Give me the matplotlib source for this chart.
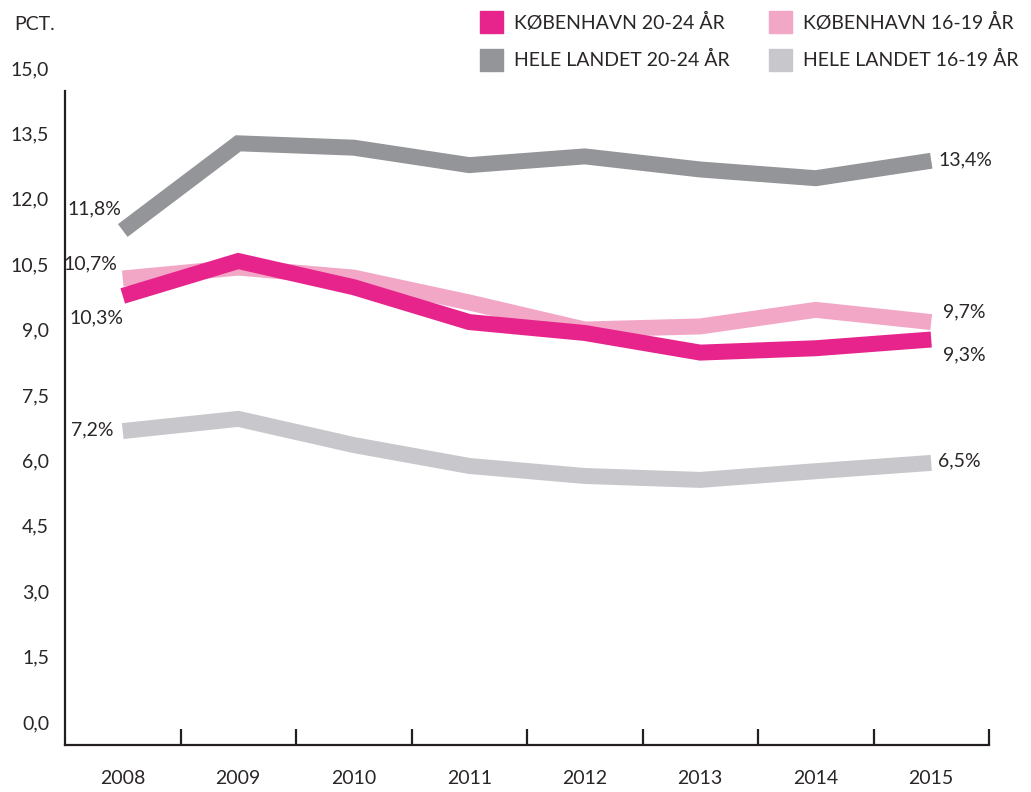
import matplotlib
matplotlib.use("Agg")
import matplotlib.pyplot as plt
import matplotlib.transforms as mtransforms
from matplotlib.patches import Rectangle
import numpy as np

plt.rcParams['font.family'] = ['Lato', 'DejaVu Sans']

years = ["2008", "2009", "2010", "2011", "2012", "2013", "2014", "2015"]
kbh_20_24 = [10.3, 11.1, 10.5, 9.7, 9.45, 9.0, 9.1, 9.3]
kbh_16_19 = [10.7, 10.95, 10.72, 10.15, 9.53, 9.6, 9.98, 9.7]
land_20_24 = [11.8, 13.8, 13.7, 13.3, 13.5, 13.2, 13.0, 13.4]
land_16_19 = [7.2, 7.48, 6.88, 6.4, 6.17, 6.08, 6.28, 6.47]

series_names = ["KØBENHAVN 20-24 ÅR", "KØBENHAVN 16-19 ÅR",
                "HELE LANDET 20-24 ÅR", "HELE LANDET 16-19 ÅR"]
yticks = [0.0, 1.5, 3.0, 4.5, 6.0, 7.5, 9.0, 10.5, 12.0, 13.5, 15.0]

c_kbh2024 = '#e7248c'
c_kbh1619 = '#f2a7c6'
c_land2024 = '#939598'
c_land1619 = '#c8c8cc'
txt = '#2a2627'
fw = 'normal'

W, H = 1031, 792
fig = plt.figure(figsize=(W / 100, H / 100), dpi=100)
ax = fig.add_axes([65 / W, 1 - 745 / H, (989 - 65) / W, (745 - 91) / H])

x = np.arange(len(years))
lw = 11.5
common = dict(lw=lw, solid_capstyle='butt', solid_joinstyle='miter')
ax.plot(x, land_16_19, color=c_land1619, **common)
ax.plot(x, land_20_24, color=c_land2024, **common)
ax.plot(x, kbh_16_19, color=c_kbh1619, **common)
ax.plot(x, kbh_20_24, color=c_kbh2024, **common)

ax.set_xlim(-0.5, len(years) - 0.5)
ax.set_ylim(0, 15)

for s in ['top', 'right']:
    ax.spines[s].set_visible(False)
for s in ['left', 'bottom']:
    ax.spines[s].set_color('#231f20')
    ax.spines[s].set_linewidth(1.6)

fs = 14
ax.set_yticks(yticks)
ax.set_yticklabels([f"{v:.1f}".replace('.', ',') for v in yticks],
                   fontsize=fs, color=txt, fontweight=fw)
ax.tick_params(axis='y', length=0, pad=11.5)
off = mtransforms.ScaledTranslation(0, 23 / 100, fig.dpi_scale_trans)
for lab in ax.get_yticklabels():
    lab.set_transform(lab.get_transform() + off)

ax.set_xticks(x)
ax.set_xticklabels(years, fontsize=14, color=txt, fontweight=fw)
ax.tick_params(axis='x', which='major', length=0, pad=18)
ax.set_xticks(x + 0.5, minor=True)
ax.tick_params(axis='x', which='minor', direction='in', length=11.5,
               width=1.6, color='#231f20')

def lab(xi, yv, s, dx, dy, ha):
    ax.annotate(s, (xi, yv), xytext=(dx, dy), textcoords='offset pixels',
                ha=ha, va='center', fontsize=fs, color=txt, fontweight=fw)

lab(0, land_20_24[0], "11,8%", -1, 22, 'right')
lab(0, kbh_16_19[0], "10,7%", -5, 15, 'right')
lab(0, kbh_20_24[0], "10,3%", 1, -22, 'right')
lab(0, land_16_19[0], "7,2%", -9, 1, 'right')
lab(7, land_20_24[7], "13,4%", 7, 1, 'left')
lab(7, kbh_16_19[7], "9,7%", 12, 10, 'left')
lab(7, kbh_20_24[7], "9,3%", 12, -15, 'left')
lab(7, land_16_19[7], "6,5%", 7, 2, 'left')

fig.text(14 / W, 1 - 25 / H, "PCT.", fontsize=fs, color=txt,
         fontweight=fw, va='center', ha='left')

legend_items = [(series_names[0], c_kbh2024, 480, 22),
                (series_names[1], c_kbh1619, 769, 22),
                (series_names[2], c_land2024, 480, 60),
                (series_names[3], c_land1619, 769, 60)]
for name, col, px, py in legend_items:
    fig.patches.append(Rectangle((px / W, 1 - (py + 11) / H), 23 / W, 22 / H,
                                 transform=fig.transFigure, color=col))
    fig.text((px + 34) / W, 1 - py / H, name, fontsize=fs, color=txt,
             fontweight=fw, va='center', ha='left')

fig.savefig("out.png", dpi=100)
